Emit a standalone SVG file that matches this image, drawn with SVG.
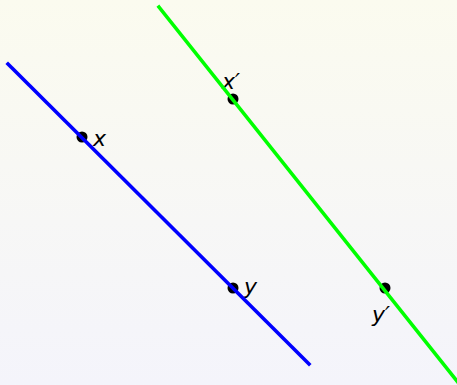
<svg xmlns="http://www.w3.org/2000/svg" width="457" height="385" viewBox="0 0 457 385">
<defs>
<linearGradient id="bg" x1="0" y1="0" x2="0" y2="1">
<stop offset="0" stop-color="#fbfbef"/>
<stop offset="1" stop-color="#f4f4fb"/>
</linearGradient>
<style>
.pt{fill:#000}
.lbl{font-family:"DejaVu Sans",sans-serif;font-style:italic;font-size:22px;fill:#000}
.ln{stroke-width:3.6;stroke-linecap:square;fill:none}
</style>
</defs>
<rect width="457" height="385" fill="url(#bg)"/>
<g id="x"><circle class="pt" cx="82" cy="137" r="5.5"/><text class="lbl" x="93" y="146">x</text></g>
<g id="y"><circle class="pt" cx="233" cy="288" r="5.5"/><text class="lbl" x="244" y="294">y</text></g>
<g id="xp"><circle class="pt" cx="233" cy="99" r="5.5"/><text class="lbl" x="222" y="89">x′</text></g>
<g id="yp"><circle class="pt" cx="385" cy="288" r="5.5"/><text class="lbl" x="372" y="322">y′</text></g>
<g id="connectors">
<line class="ln" stroke="#0000ff" x1="8" y1="64" x2="309" y2="364"/>
<line class="ln" stroke="#00ff00" x1="159" y1="7" x2="460" y2="385"/>
</g>
</svg>
